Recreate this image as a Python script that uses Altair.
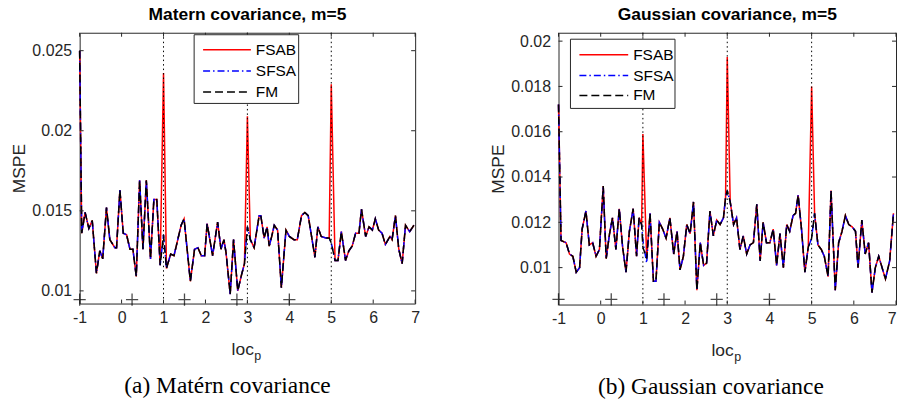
import altair as alt
import pandas as pd

# ---------------- data ----------------
# (a) Matern covariance, m=5
loc_m = [-1.00, -0.95, -0.87, -0.78, -0.70, -0.60, -0.52, -0.45, -0.36, -0.28,
         -0.16, -0.12, -0.04, 0.04, 0.12, 0.20, 0.27, 0.35, 0.43, 0.51,
         0.59, 0.69, 0.77, 0.84, 0.92, 1.00, 1.07, 1.17, 1.25, 1.42,
         1.49, 1.64, 1.74, 1.82, 1.90, 1.98, 2.04, 2.17, 2.29, 2.37,
         2.44, 2.49, 2.59, 2.67, 2.77, 2.85, 2.93, 3.00, 3.07, 3.16,
         3.28, 3.32, 3.40, 3.47, 3.52, 3.58, 3.64, 3.72, 3.81, 3.92,
         4.00, 4.11, 4.19, 4.29, 4.37, 4.45, 4.53, 4.61, 4.68, 4.76,
         4.87, 4.95, 5.00, 5.09, 5.16, 5.24, 5.34, 5.42, 5.50, 5.58,
         5.66, 5.72, 5.82, 5.90, 5.98, 6.05, 6.13, 6.21, 6.29, 6.40,
         6.45, 6.53, 6.61, 6.69, 6.77, 6.87, 6.97]
fm_m = [0.0250, 0.0136, 0.0149, 0.0139, 0.0144, 0.0111, 0.0125, 0.0120, 0.0152, 0.0132,
        0.0127, 0.0127, 0.0163, 0.0136, 0.0135, 0.0126, 0.0126, 0.0109, 0.0169, 0.0126,
        0.0169, 0.0120, 0.0157, 0.0157, 0.0116, 0.0135, 0.0114, 0.0123, 0.0122, 0.0141,
        0.0145, 0.0106, 0.0126, 0.0127, 0.0122, 0.0122, 0.0142, 0.0122, 0.0143, 0.0126,
        0.0132, 0.0124, 0.0098, 0.0132, 0.0100, 0.0109, 0.0117, 0.0140, 0.0132, 0.0127,
        0.0147, 0.0147, 0.0133, 0.0140, 0.0128, 0.0134, 0.0141, 0.0138, 0.0102, 0.0138,
        0.0134, 0.0132, 0.0132, 0.0147, 0.0149, 0.0147, 0.0134, 0.0121, 0.0140, 0.0134,
        0.0133, 0.0133, 0.0130, 0.0119, 0.0119, 0.0137, 0.0119, 0.0125, 0.0128, 0.0136,
        0.0136, 0.0151, 0.0134, 0.0140, 0.0138, 0.0145, 0.0138, 0.0136, 0.0129, 0.0134,
        0.0132, 0.0147, 0.0126, 0.0117, 0.0141, 0.0137, 0.0141]
sfsa_m_diff = {}                                   # SFSA coincides with FM
fsab_m_diff = {1.00: 0.0236, 3.00: 0.0209, 5.00: 0.0229}   # FSAB spikes

# (b) Gaussian covariance, m=5
loc_g = [-1.00, -0.94, -0.82, -0.74, -0.66, -0.58, -0.50, -0.44, -0.35, -0.27,
         -0.19, -0.11, -0.03, 0.06, 0.13, 0.21, 0.28, 0.36, 0.44, 0.52,
         0.60, 0.68, 0.77, 0.85, 0.91, 0.97, 1.00, 1.09, 1.17, 1.25,
         1.31, 1.39, 1.47, 1.55, 1.64, 1.73, 1.81, 1.88, 1.96, 2.04,
         2.12, 2.20, 2.28, 2.36, 2.44, 2.51, 2.59, 2.67, 2.75, 2.83,
         2.91, 2.96, 3.00, 3.07, 3.15, 3.22, 3.30, 3.38, 3.46, 3.54,
         3.62, 3.70, 3.78, 3.85, 3.93, 4.01, 4.09, 4.17, 4.25, 4.33,
         4.41, 4.48, 4.56, 4.62, 4.68, 4.76, 4.84, 4.92, 5.00, 5.07,
         5.15, 5.23, 5.30, 5.39, 5.46, 5.56, 5.64, 5.72, 5.80, 5.88,
         5.96, 6.04, 6.10, 6.19, 6.27, 6.35, 6.43, 6.51, 6.59, 6.67,
         6.75, 6.85, 6.94]
fm_g = [0.0172, 0.0112, 0.0111, 0.0106, 0.0105, 0.0098, 0.0100, 0.0117, 0.0125, 0.0110,
        0.0111, 0.0105, 0.0108, 0.0136, 0.0104, 0.0115, 0.0122, 0.0108, 0.0126, 0.0109,
        0.0098, 0.0116, 0.0126, 0.0105, 0.0122, 0.0119, 0.0109, 0.0104, 0.0124, 0.0094,
        0.0094, 0.0120, 0.0117, 0.0113, 0.0122, 0.0106, 0.0116, 0.0099, 0.0105, 0.0119,
        0.0115, 0.0129, 0.0090, 0.0111, 0.0101, 0.0102, 0.0125, 0.0114, 0.0121, 0.0119,
        0.0122, 0.0131, 0.0134, 0.0129, 0.0119, 0.0122, 0.0108, 0.0114, 0.0106, 0.0110,
        0.0111, 0.0128, 0.0103, 0.0120, 0.0111, 0.0111, 0.0117, 0.0101, 0.0115, 0.0100,
        0.0119, 0.0116, 0.0123, 0.0124, 0.0132, 0.0117, 0.0098, 0.0109, 0.0113, 0.0124,
        0.0110, 0.0108, 0.0105, 0.0096, 0.0134, 0.0090, 0.0111, 0.0116, 0.0123, 0.0119,
        0.0118, 0.0116, 0.0100, 0.0121, 0.0106, 0.0111, 0.0089, 0.0100, 0.0105, 0.0100,
        0.0095, 0.0103, 0.0124]
sfsa_g_diff = {1.00: 0.0112, 1.09: 0.0102}
fsab_g_diff = {1.00: 0.0159, 3.00: 0.0193, 5.00: 0.0180}

series_names = ["FSAB", "SFSA", "FM"]
series_colors = ["#ff0000", "#0000ff", "#000000"]
series_dashes = [None, [7, 3, 1.5, 3], [8, 4]]

true_locs = [1, 3, 5]                     # dotted vertical lines
sensor_locs = [-1, 0.25, 1.5, 2.75, 4]    # "+" markers
sensor_y_m = 0.00946
sensor_y_g = 0.0086

x_ticks = [-1, 0, 1, 2, 3, 4, 5, 6, 7]
y_ticks_m = [0.01, 0.015, 0.02, 0.025]
y_ticks_g = [0.01, 0.012, 0.014, 0.016, 0.018, 0.02]
y_dom_m = [0.00921, 0.02612]
y_dom_g = [0.00837, 0.02037]

FONT = "Liberation Sans"
AX = "#262626"
ONE = pd.DataFrame({"k": [0]})


def panel(loc, fm, sfsa_diff, fsab_diff, ydom, yticks, sensor_y, title, caption,
          W, H, leg, cap_x, flush_last):
    recs = []
    for x, v in zip(loc, fm):
        recs.append({"loc": x, "series": "FSAB", "mspe": fsab_diff.get(x, v)})
        recs.append({"loc": x, "series": "SFSA", "mspe": sfsa_diff.get(x, v)})
        recs.append({"loc": x, "series": "FM", "mspe": v})
    df = pd.DataFrame(recs)

    xs = alt.Scale(domain=[-1, 7], nice=False, zero=False)
    ys = alt.Scale(domain=ydom, nice=False, zero=False)

    xax_kw = dict(values=x_ticks, labelExpr="'' + datum.value", grid=False, ticks=False,
                  domain=False, labelPadding=6, labelFont=FONT, labelFontSize=16,
                  labelColor=AX, labelFlush=False, title="loc", titleFont=FONT,
                  titleFontSize=17.5, titleFontWeight="normal", titleColor=AX,
                  titleX=W / 2 + 6, titleY=51, titleAlign="right",
                  titleBaseline="alphabetic")
    if flush_last:
        xax_kw["labelAlign"] = alt.condition("datum.value == 7", alt.value("right"),
                                             alt.value("center"))
    xaxis = alt.Axis(**xax_kw)
    yaxis = alt.Axis(values=yticks, format="~g", grid=False, ticks=False, domain=False,
                     labelPadding=8, labelFont=FONT, labelFontSize=16, labelColor=AX,
                     title="MSPE", titleFont=FONT, titleFontSize=17.5,
                     titleFontWeight="normal", titleColor=AX, titleX=-60, titleY=H / 2,
                     titleAngle=270, titleAlign="center", titleBaseline="middle")

    X = alt.X("loc:Q", scale=xs, axis=xaxis)
    Y = alt.Y("mspe:Q", scale=ys, axis=yaxis)

    layers = []
    for name, col, dash in zip(series_names, series_colors, series_dashes):
        kw = dict(color=col, strokeWidth=1.5)
        if dash:
            kw["strokeDash"] = dash
        layers.append(alt.Chart(df).transform_filter(
            alt.datum.series == name).mark_line(**kw).encode(x=X, y=Y, order="loc:Q"))

    # dotted vertical lines at the true locations
    layers.append(alt.Chart(pd.DataFrame({"loc": true_locs})).mark_rule(
        color="black", strokeDash=[1.5, 3], strokeWidth=1).encode(x=X))

    # "+" markers
    layers.append(alt.Chart(pd.DataFrame({"loc": sensor_locs,
                                          "mspe": [sensor_y] * len(sensor_locs)})).mark_point(
        shape="M-1,0H1M0,-1V1", size=150, color="black", strokeWidth=1.3,
        filled=False).encode(x=X, y=Y))

    # inward ticks on all four sides (MATLAB box style)
    tx = alt.Chart(pd.DataFrame({"loc": x_ticks}))
    ty = alt.Chart(pd.DataFrame({"mspe": yticks}))
    tick_kw = dict(color=AX, strokeWidth=1)
    layers.append(tx.mark_rule(**tick_kw).encode(x=X, y=alt.value(0), y2=alt.value(4)))
    layers.append(tx.mark_rule(**tick_kw).encode(x=X, y=alt.value(H), y2=alt.value(H - 4)))
    layers.append(ty.mark_rule(**tick_kw).encode(y=Y, x=alt.value(0), x2=alt.value(4)))
    layers.append(ty.mark_rule(**tick_kw).encode(y=Y, x=alt.value(W), x2=alt.value(W - 4)))

    # legend box
    bx0, bx1, by0, by1, lx0, lx1, tx0, rows = leg
    layers.append(alt.Chart(ONE).mark_rect(fill="white", stroke=AX, strokeWidth=1).encode(
        x=alt.value(bx0), x2=alt.value(bx1), y=alt.value(by0), y2=alt.value(by1)))
    for name, col, dash, ry in zip(series_names, series_colors, series_dashes, rows):
        kw = dict(color=col, strokeWidth=1.5)
        if dash:
            kw["strokeDash"] = dash
        layers.append(alt.Chart(ONE).mark_rule(**kw).encode(
            x=alt.value(lx0), x2=alt.value(lx1), y=alt.value(ry)))
        layers.append(alt.Chart(pd.DataFrame({"t": [name]})).mark_text(
            font=FONT, fontSize=15.5, color="black", align="left", baseline="middle").encode(
            text="t:N", x=alt.value(tx0), y=alt.value(ry)))

    # subscript p of loc_p
    layers.append(alt.Chart(pd.DataFrame({"t": ["p"]})).mark_text(
        font=FONT, fontSize=12.5, color=AX, align="left", baseline="alphabetic").encode(
        text="t:N", x=alt.value(W / 2 + 7), y=alt.value(H + 57)))
    # sub-figure caption
    layers.append(alt.Chart(pd.DataFrame({"t": [caption]})).mark_text(
        font="Liberation Serif", fontSize=23.5, color="black", align="center",
        baseline="alphabetic").encode(text="t:N", x=alt.value(cap_x), y=alt.value(H + 90)))

    return alt.layer(*layers).properties(
        width=W, height=H,
        title=alt.TitleParams(title, font=FONT, fontSize=17.5, fontWeight="bold",
                              color="black", anchor="middle", offset=8.5))


left = panel(loc_m, fm_m, sfsa_m_diff, fsab_m_diff, y_dom_m, y_ticks_m, sensor_y_m,
             "Matern covariance, m=5", "(a) Matérn covariance", 337, 272,
             (115, 220, 2, 71, 124, 172, 177, [17, 38.5, 59.5]), 148.5, False)
right = panel(loc_g, fm_g, sfsa_g_diff, fsab_g_diff, y_dom_g, y_ticks_g, sensor_y_g,
              "Gaussian covariance, m=5", "(b) Gaussian covariance", 339, 273,
              (12, 117, 6.5, 76, 21, 70, 75, [22, 43, 63]), 153, True)

chart = alt.hconcat(left, right, spacing=69).properties(
    padding={"left": 10, "top": 5, "right": 0, "bottom": 0}
).configure_view(stroke=AX, strokeWidth=1)

chart.save("out.html", embed_options={"renderer": "svg", "actions": False})
